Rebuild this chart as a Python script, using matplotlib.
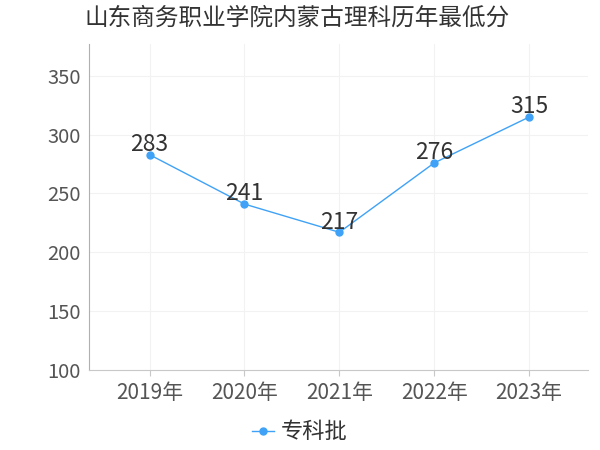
import matplotlib
matplotlib.use('Agg')
import matplotlib.pyplot as plt

plt.rcParams['font.family'] = ['Noto Sans CJK SC', 'DejaVu Sans']

# data
years = ['2019年', '2020年', '2021年', '2022年', '2023年']
scores = [283, 241, 217, 276, 315]
series_name = '专科批'

line_color = '#3fa2f7'

fig = plt.figure(figsize=(6, 4.5), dpi=100)
ax = fig.add_axes([0.148, 0.178, 0.832, 0.724])

x = list(range(len(years)))
ax.plot(x, scores, color=line_color, linewidth=1, marker='o', markersize=5, label=series_name)

for xi, v in zip(x, scores):
    ax.annotate(str(v), (xi, v), xytext=(0, -1), textcoords='offset points',
                ha='center', va='bottom', fontsize=16.5, color='#333333')

ax.set_xlim(-0.64, 4.62)
ax.set_ylim(100, 377)
ax.set_yticks([100, 150, 200, 250, 300, 350])
ax.set_xticks(x)
ax.set_xticklabels(years)

ax.grid(True, color='#f2f2f2', linewidth=0.8)
ax.set_axisbelow(True)
for s in ['top', 'right']:
    ax.spines[s].set_visible(False)
ax.spines['left'].set_color('#b0b0b0')
ax.spines['bottom'].set_color('#c8c8c8')
ax.tick_params(axis='y', length=0, labelsize=14.5, labelcolor='#555555', pad=6)
ax.tick_params(axis='x', length=4, color='#c8c8c8', labelsize=15, labelcolor='#555555', pad=5)

fig.text(0.14, 0.96, '山东商务职业学院内蒙古理科历年最低分', fontsize=17, color='#333333',
         ha='left', va='center')

fig.legend(loc='center', bbox_to_anchor=(0.5, 0.04), frameon=False, fontsize=16,
           handlelength=1.0, handletextpad=0.3, labelcolor='#333333')

fig.savefig('out.png', dpi=100)
